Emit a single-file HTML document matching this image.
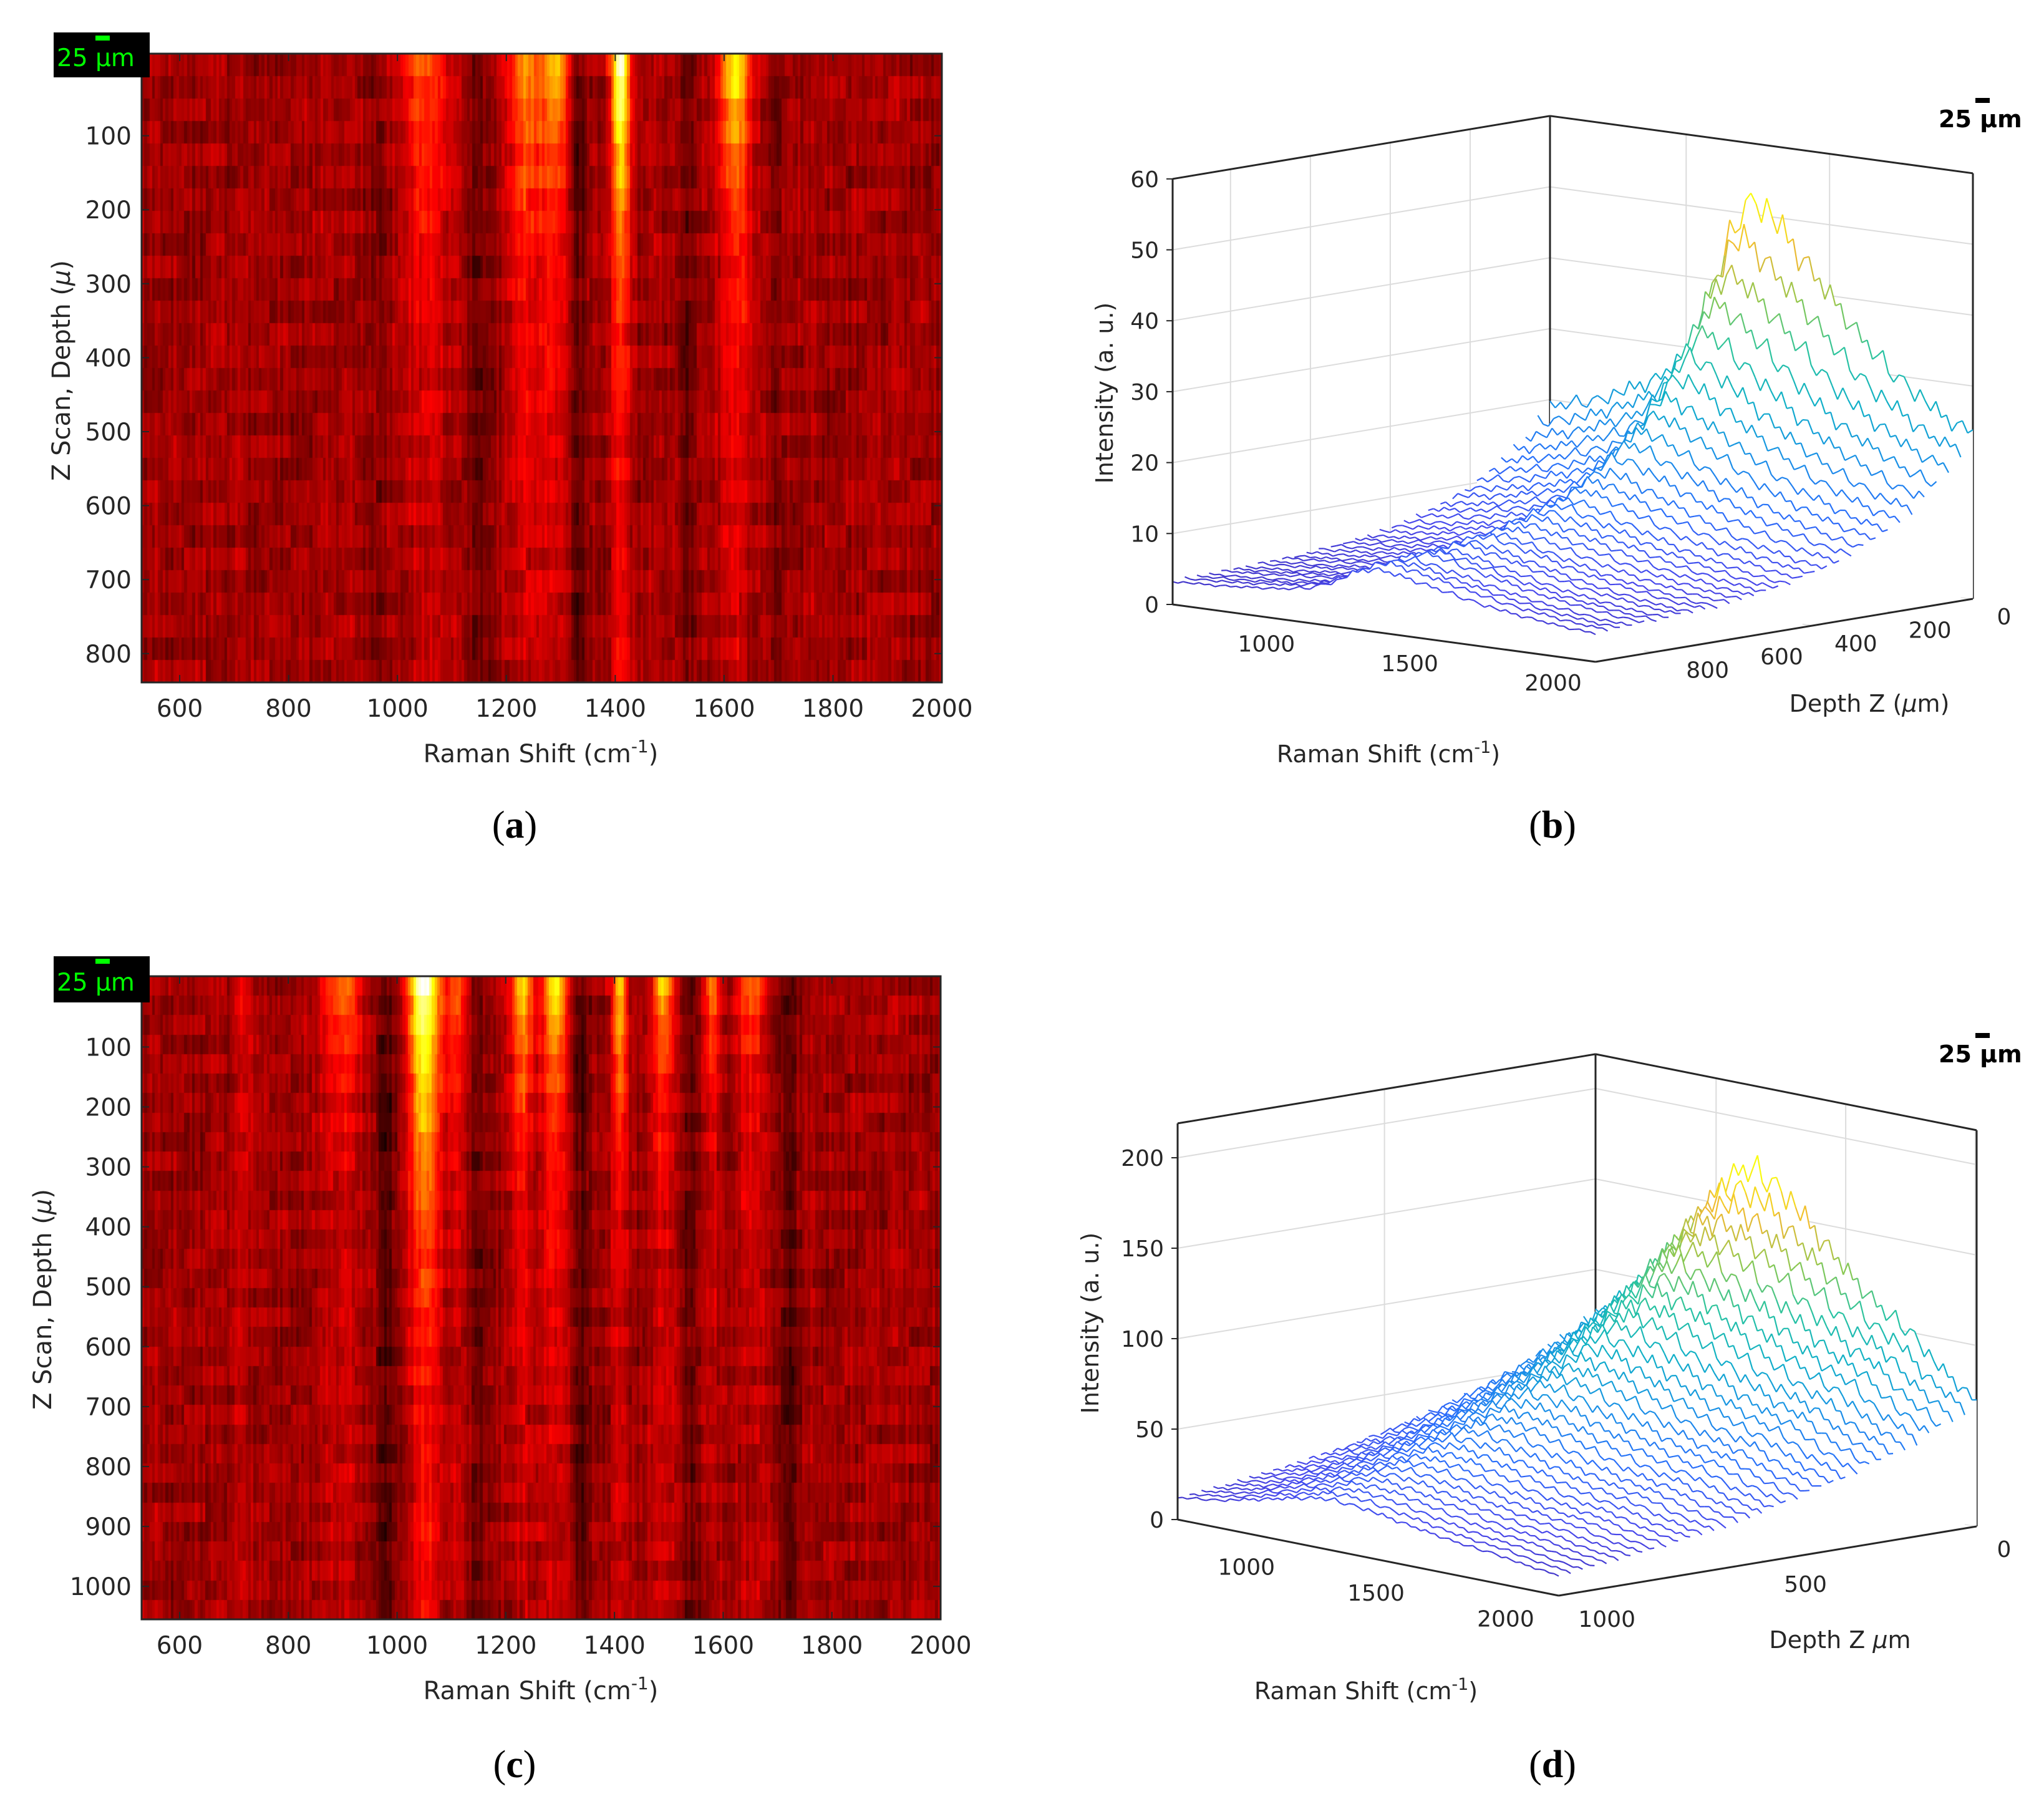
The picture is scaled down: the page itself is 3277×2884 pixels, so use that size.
<!DOCTYPE html>
<html><head><meta charset="utf-8">
<style>
html,body{margin:0;padding:0;background:#fff;}
#root{position:relative;width:3277px;height:2884px;overflow:hidden;background:#fff;}
canvas{position:absolute;}
svg{position:absolute;left:0;top:0;}
text{font-family:"DejaVu Sans","Liberation Sans",sans-serif;fill:#262626;}
</style></head>
<body>
<div id="root">
<canvas id="heatA" width="1283" height="1008" style="left:227px;top:86px"></canvas>
<canvas id="heatC" width="1281" height="1031" style="left:227px;top:1565px"></canvas>
<svg id="svg" width="3277" height="2884" viewBox="0 0 3277 2884">
  <g id="gA"></g>
  <g id="gB"></g>
  <g id="gC"></g>
  <g id="gD"></g>
  <rect x="86" y="52" width="154" height="72" fill="#000"/>
  <rect x="153" y="57" width="23" height="8" fill="#00ff00"/>
  <text x="91" y="106" font-size="39" style="fill:#00ff00">25 μm</text>
  <rect x="86" y="1533" width="154" height="74" fill="#000"/>
  <rect x="153" y="1537" width="23" height="8" fill="#00ff00"/>
  <text x="91" y="1588" font-size="39" style="fill:#00ff00">25 μm</text>
  <rect x="3167" y="157" width="23" height="8" fill="#000"/>
  <text x="3108" y="204" font-size="38" font-weight="bold" style="fill:#000">25 μm</text>
  <rect x="3167" y="1656" width="23" height="8" fill="#000"/>
  <text x="3108" y="1703" font-size="38" font-weight="bold" style="fill:#000">25 μm</text>
  <text x="825" y="1343" font-size="62" text-anchor="middle" style="font-family:'Liberation Serif',serif;fill:#000">(<tspan font-weight="bold">a</tspan>)</text>
  <text x="2489" y="1343" font-size="62" text-anchor="middle" style="font-family:'Liberation Serif',serif;fill:#000">(<tspan font-weight="bold">b</tspan>)</text>
  <text x="825" y="2849" font-size="62" text-anchor="middle" style="font-family:'Liberation Serif',serif;fill:#000">(<tspan font-weight="bold">c</tspan>)</text>
  <text x="2489" y="2849" font-size="62" text-anchor="middle" style="font-family:'Liberation Serif',serif;fill:#000">(<tspan font-weight="bold">d</tspan>)</text>
  <text x="867" y="1222" font-size="40" text-anchor="middle">Raman Shift (cm<tspan baseline-shift="super" font-size="28">-1</tspan>)</text>
  <text transform="translate(112,594) rotate(-90)" font-size="40" text-anchor="middle">Z Scan, Depth (<tspan font-style="italic">μ</tspan>)</text>
  <text x="867" y="2724" font-size="40" text-anchor="middle">Raman Shift (cm<tspan baseline-shift="super" font-size="28">-1</tspan>)</text>
  <text transform="translate(82,2083) rotate(-90)" font-size="40" text-anchor="middle">Z Scan, Depth (<tspan font-style="italic">μ</tspan>)</text>
  <text x="2226" y="1222" font-size="38" text-anchor="middle">Raman Shift (cm<tspan baseline-shift="super" font-size="27">-1</tspan>)</text>
  <text x="2997" y="1141" font-size="38" text-anchor="middle">Depth Z (<tspan font-style="italic">μ</tspan>m)</text>
  <text transform="translate(1784,630) rotate(-90)" font-size="38" text-anchor="middle">Intensity (a. u.)</text>
  <text x="2190" y="2724" font-size="38" text-anchor="middle">Raman Shift (cm<tspan baseline-shift="super" font-size="27">-1</tspan>)</text>
  <text x="2950" y="2642" font-size="38" text-anchor="middle">Depth Z <tspan font-style="italic">μ</tspan>m</text>
  <text transform="translate(1761,2121) rotate(-90)" font-size="38" text-anchor="middle">Intensity (a. u.)</text>
</svg>
</div>
<script>
// ===== Heatmap (a) data =====
const heatA_peakCenters = [1050, 1235, 1290, 1410, 1620];
const heatA_peakWidths  = [30, 22, 18, 12, 20];
const heatA_peakAmps    = [0.30, 0.35, 0.40, 0.80, 0.55];
const heatA_peakDecays  = [220, 300, 220, 200, 200];
const heatA_dipCenters  = [960, 1150, 1330, 1530, 1700];
const heatA_dipWidths   = [12, 15, 12, 12, 12];
const heatA_dipAmps     = [0.05, 0.08, 0.10, 0.07, 0.05];
const heatA_xTicks = [600, 800, 1000, 1200, 1400, 1600, 1800, 2000];
const heatA_yTicks = [100, 200, 300, 400, 500, 600, 700, 800];
// ===== Heatmap (c) data =====
const heatC_peakCenters = [720, 900, 1050, 1110, 1230, 1290, 1410, 1490, 1580, 1650];
const heatC_peakWidths  = [15, 25, 20, 15, 15, 15, 10, 12, 10, 18];
const heatC_peakAmps    = [0.12, 0.30, 0.80, 0.25, 0.45, 0.50, 0.50, 0.45, 0.35, 0.30];
const heatC_peakDecays  = [250, 160, 260, 160, 220, 220, 200, 160, 150, 160];
const heatC_dipCenters  = [980, 1150, 1340, 1540, 1720];
const heatC_dipWidths   = [15, 12, 12, 12, 12];
const heatC_dipAmps     = [0.10, 0.08, 0.10, 0.07, 0.12];
const heatC_xTicks = [600, 800, 1000, 1200, 1400, 1600, 1800, 2000];
const heatC_yTicks = [100, 200, 300, 400, 500, 600, 700, 800, 900, 1000];
const heatTexture = [0.6,-0.9,0.2,-0.4,0.8,-0.1,-0.7,0.4,0.1,-0.5,0.9,-0.3,0.3,-0.8,0.5,0.0,-0.6,0.7,-0.2,0.2,-1.0,0.6,-0.4,0.1,0.8,-0.5,-0.1,0.4,-0.7,0.3,0.9,-0.6,0.0,0.5,-0.3,-0.8,0.7,0.2,-0.2,0.4,-0.9];

// ===== 3D (b) data =====
const specB_raman = [525, 700, 900, 1000, 1100, 1150, 1200, 1250, 1300, 1400, 1500, 1600, 1700, 1800, 1900, 2000];
const specB_backRow = [19, 21, 25, 29, 38, 46, 51, 52, 50, 45, 40, 35, 31, 28, 25, 23.5];
const specB_rowAmp = [1.00,0.90,0.81,0.73,0.66,0.60,0.55,0.50,0.46,0.42,0.39,0.36,0.33,0.31,0.29,0.27,0.26,0.25,0.24,0.23,0.22,0.21,0.21,0.20,0.20,0.19,0.19,0.19,0.18,0.18,0.18,0.17];
const specB_zTicks = [0, 10, 20, 30, 40, 50, 60];
const specB_ramanTicks = [1000, 1500, 2000];
const specB_depthTicks = [0, 200, 400, 600, 800];
// ===== 3D (d) data =====
const specD_raman = [535, 700, 850, 1000, 1086, 1150, 1250, 1350, 1450, 1550, 1650, 1755, 1850, 2005];
const specD_backRow = [75, 95, 125, 155, 170, 172, 165, 150, 135, 120, 108, 100, 85, 69];
const specD_rowAmp = [1,.949,.901,.856,.812,.771,.732,.695,.660,.627,.595,.565,.536,.509,.483,.459,.436,.414,.393,.373,.354,.336,.319,.303,.288,.273,.259,.246,.234,.222,.211,.200,.190,.180,.171,.162];
const specD_zTicks = [0, 50, 100, 150, 200];
const specD_ramanTicks = [1000, 1500, 2000];
const specD_depthTicks = [0, 500, 1000];
const specWiggle = [0.6,-0.2,0.3,-0.5,0.1,0.8,-0.3,-0.6,0.2,0.4,-0.1,-0.7,0.5,0.0,-0.4,0.7,-0.2,0.3,-0.8,0.1,0.5,-0.3,0.2,-0.5,0.6,-0.1,0.4,-0.6,0.0];

const NS = 'http://www.w3.org/2000/svg';
function mk(tag, parent){ const e=document.createElementNS(NS,tag); parent.appendChild(e); return e; }
function clamp(v){ return v<0?0:(v>1?1:v); }
function hot(v){ v=clamp(v); return [Math.round(255*clamp(v/0.375)), Math.round(255*clamp((v-0.375)/0.375)), Math.round(255*clamp((v-0.75)/0.25))]; }
const parulaStops=[[0,62,38,168],[0.125,70,70,235],[0.25,40,110,250],[0.375,25,145,230],[0.5,15,175,200],[0.625,40,195,160],[0.75,140,200,80],[0.875,240,185,50],[1,249,251,14]];
function parula(t){ t=clamp(t); for(let i=1;i<parulaStops.length;i++){ const a=parulaStops[i-1],b=parulaStops[i]; if(t<=b[0]){ const f=(t-a[0])/(b[0]-a[0]); return 'rgb('+Math.round(a[1]+f*(b[1]-a[1]))+','+Math.round(a[2]+f*(b[2]-a[2]))+','+Math.round(a[3]+f*(b[3]-a[3]))+')'; } } return 'rgb(249,251,14)'; }
function interp(xs, ys, x){ if(x<=xs[0]) return ys[0]; for(let i=1;i<xs.length;i++){ if(x<=xs[i]){ const f=(x-xs[i-1])/(xs[i]-xs[i-1]); return ys[i-1]+f*(ys[i]-ys[i-1]); } } return ys[ys.length-1]; }

function drawHeat(cv, rLo, rHi, dLo, dHi, nRows, pc, pw, pa, pd, dc, dw, da){
  const ctx=cv.getContext('2d'); const W=cv.width, H=cv.height; const nCols=300;
  const xs=r=>(r-rLo)/(rHi-rLo)*W;
  const T=heatTexture.length;
  for(let j=0;j<nRows;j++){
    const depth=dLo+(j+0.5)*(dHi-dLo)/nRows;
    const y0=Math.round(j*H/nRows), y1=Math.round((j+1)*H/nRows);
    for(let i=0;i<nCols;i++){
      const r=rLo+(i+0.5)*(rHi-rLo)/nCols;
      let v=0.235;
      for(let k=0;k<pc.length;k++){ const g=Math.exp(-0.5*Math.pow((r-pc[k])/pw[k],2)); v+=pa[k]*g*(0.14+0.86*Math.exp(-Math.max(0,depth)/pd[k])); }
      for(let k=0;k<dc.length;k++){ v-=da[k]*Math.exp(-0.5*Math.pow((r-dc[k])/dw[k],2)); }
      v+=0.04*heatTexture[(i*7+j*3+(i>>2)*11)%T]+0.03*heatTexture[(i*13)%T]+0.045*heatTexture[(j*11+(i>>3)*7)%T];
      const c=hot(v); ctx.fillStyle='rgb('+c[0]+','+c[1]+','+c[2]+')';
      const x0=Math.round(xs(rLo+i*(rHi-rLo)/nCols)), x1=Math.round(xs(rLo+(i+1)*(rHi-rLo)/nCols));
      ctx.fillRect(x0,y0,x1-x0,y1-y0);
    }
  }
}
drawHeat(document.getElementById('heatA'),530,2000,-11,839,28,heatA_peakCenters,heatA_peakWidths,heatA_peakAmps,heatA_peakDecays,heatA_dipCenters,heatA_dipWidths,heatA_dipAmps);
drawHeat(document.getElementById('heatC'),530,2000,-18,1055,33,heatC_peakCenters,heatC_peakWidths,heatC_peakAmps,heatC_peakDecays,heatC_dipCenters,heatC_dipWidths,heatC_dipAmps);

function heatAxes(g, L, T, R, B, rLo, rHi, dLo, dHi, xt, yt, tag){
  const xS=r=>L+(r-rLo)/(rHi-rLo)*(R-L), yS=d=>T+(d-dLo)/(dHi-dLo)*(B-T);
  const box=mk('rect',g); box.setAttribute('x',L); box.setAttribute('y',T); box.setAttribute('width',R-L); box.setAttribute('height',B-T);
  box.setAttribute('fill','none'); box.setAttribute('stroke','#262626'); box.setAttribute('stroke-width','3');
  
  
  xt.forEach(v=>{
    const x=xS(v);
    const t1=mk('line',g); t1.setAttribute('x1',x); t1.setAttribute('x2',x); t1.setAttribute('y1',B); t1.setAttribute('y2',B-12); t1.setAttribute('stroke','#262626'); t1.setAttribute('stroke-width','2');
    
    
    const t2=mk('line',g); t2.setAttribute('x1',x); t2.setAttribute('x2',x); t2.setAttribute('y1',T); t2.setAttribute('y2',T+12); t2.setAttribute('stroke','#262626'); t2.setAttribute('stroke-width','2');
    
    
    const tx=mk('text',g); tx.setAttribute('x',x); tx.setAttribute('y',B+55); tx.setAttribute('font-size','39'); tx.setAttribute('text-anchor','middle'); tx.textContent=v;
    
    
  });
  yt.forEach(v=>{
    const y=yS(v);
    const t1=mk('line',g); t1.setAttribute('x1',L); t1.setAttribute('x2',L+12); t1.setAttribute('y1',y); t1.setAttribute('y2',y); t1.setAttribute('stroke','#262626'); t1.setAttribute('stroke-width','2');
    
    
    const t2=mk('line',g); t2.setAttribute('x1',R); t2.setAttribute('x2',R-12); t2.setAttribute('y1',y); t2.setAttribute('y2',y); t2.setAttribute('stroke','#262626'); t2.setAttribute('stroke-width','2');
    
    
    const tx=mk('text',g); tx.setAttribute('x',L-16); tx.setAttribute('y',y+14); tx.setAttribute('font-size','39'); tx.setAttribute('text-anchor','end'); tx.textContent=v;
    
    
  });
}
heatAxes(document.getElementById('gA'),227,86,1510,1094,530,2000,-11,839,heatA_xTicks,heatA_yTicks,'a');
heatAxes(document.getElementById('gC'),227,1565,1508,2596,530,2000,-18,1055,heatC_xTicks,heatC_yTicks,'c');

function waterfall(g, cfg, ramanArr, backRow, rowAmp, zTicks, rTicks, dTicks, tag){
  const P=(r,d,z)=>[cfg.B[0]+(r-cfg.rmin)/(cfg.rmax-cfg.rmin)*cfg.Vr[0]+d/cfg.dmax*cfg.Vd[0],
                    cfg.B[1]+(r-cfg.rmin)/(cfg.rmax-cfg.rmin)*cfg.Vr[1]+d/cfg.dmax*cfg.Vd[1]-z*cfg.zs];
  function line(a,b,color,w,name){
    const l=mk('line',g); l.setAttribute('x1',a[0].toFixed(1)); l.setAttribute('y1',a[1].toFixed(1)); l.setAttribute('x2',b[0].toFixed(1)); l.setAttribute('y2',b[1].toFixed(1));
    l.setAttribute('stroke',color); l.setAttribute('stroke-width',w);
    
    
  }
  const grid='#dcdcdc';
  zTicks.forEach(z=>{ if(z===0) return;
    line(P(cfg.rmin,cfg.dmax,z),P(cfg.rmin,0,z),grid,2,'z-gridline-'+tag);
    line(P(cfg.rmin,0,z),P(cfg.rmax,0,z),grid,2,'z-gridline-'+tag);
  });
  dTicks.forEach(d=>{ if(d<=0||d>=cfg.dmax) return;
    line(P(cfg.rmin,d,0),P(cfg.rmin,d,cfg.zmax),grid,2,'depth-gridline-'+tag);
    line(P(cfg.rmin,d,0),P(cfg.rmax,d,0),grid,2,'depth-gridline-'+tag);
  });
  rTicks.forEach(r=>{ if(r>=cfg.rmax) return;
    line(P(r,0,0),P(r,0,cfg.zmax),grid,2,'raman-gridline-'+tag);
    line(P(r,0,0),P(r,cfg.dmax,0),grid,2,'raman-gridline-'+tag);
  });
  line(P(cfg.rmin,cfg.dmax,0),P(cfg.rmin,0,0),grid,2,'floor-edge-'+tag);
  line(P(cfg.rmin,0,0),P(cfg.rmax,0,0),grid,2,'floor-edge-'+tag);
  const k='#262626';
  line(P(cfg.rmin,0,0),P(cfg.rmin,0,cfg.zmax),k,3,'box-edge-'+tag);
  line(P(cfg.rmax,0,0),P(cfg.rmax,0,cfg.zmax),k,3,'box-edge-'+tag);
  line(P(cfg.rmin,cfg.dmax,cfg.zmax),P(cfg.rmin,0,cfg.zmax),k,3,'box-edge-'+tag);
  line(P(cfg.rmin,0,cfg.zmax),P(cfg.rmax,0,cfg.zmax),k,3,'box-edge-'+tag);
  const nRows=rowAmp.length, nPts=80;
  let zMaxData=0; backRow.forEach(v=>{ if(v>zMaxData) zMaxData=v; });
  for(let rI=0;rI<nRows;rI++){
    const d=rI*cfg.dmax/(nRows-1);
    const pts=[], zs=[];
    for(let p=0;p<=nPts;p++){
      const r=cfg.rmin+p*(cfg.rmax-cfg.rmin)/nPts;
      const z=rowAmp[rI]*interp(ramanArr,backRow,r)*(1+0.07*specWiggle[(p+rI*5)%specWiggle.length]);
      pts.push(P(r,d,z)); zs.push(z);
    }
    const fl1=P(cfg.rmax,d,0), fl2=P(cfg.rmin,d,0);
    const poly=mk('polygon',g);
    poly.setAttribute('points',pts.map(q=>q[0].toFixed(1)+','+q[1].toFixed(1)).join(' ')+' '+fl1[0].toFixed(1)+','+fl1[1].toFixed(1)+' '+fl2[0].toFixed(1)+','+fl2[1].toFixed(1));
    poly.setAttribute('fill','#fff');
    
    
    for(let p=1;p<pts.length;p++){ line(pts[p-1],pts[p],parula(((zs[p-1]+zs[p])/2)/zMaxData),2.2,'spectrum-segment-'+tag); }
  }
  line(P(cfg.rmin,cfg.dmax,0),P(cfg.rmin,cfg.dmax,cfg.zmax),k,3,'z-axis-line-'+tag);
  line(P(cfg.rmin,cfg.dmax,0),P(cfg.rmax,cfg.dmax,0),k,3,'raman-axis-line-'+tag);
  line(P(cfg.rmax,cfg.dmax,0),P(cfg.rmax,0,0),k,3,'depth-axis-line-'+tag);
  zTicks.forEach(z=>{
    const p=P(cfg.rmin,cfg.dmax,z);
    line([p[0]-10,p[1]],p,k,2,'z-tick-'+tag);
    const t=mk('text',g); t.setAttribute('x',p[0]-22); t.setAttribute('y',p[1]+13); t.setAttribute('font-size','36'); t.setAttribute('text-anchor','end'); t.textContent=z;
    
    
  });
  rTicks.forEach(r=>{
    const p=P(r,cfg.dmax,0);
    const t=mk('text',g); t.setAttribute('x',p[0]+cfg.rOff[0]); t.setAttribute('y',p[1]+cfg.rOff[1]+13); t.setAttribute('font-size','36'); t.setAttribute('text-anchor','middle'); t.textContent=r;
    
    
  });
  dTicks.forEach(d=>{
    const p=P(cfg.rmax,d,0);
    const t=mk('text',g); t.setAttribute('x',p[0]+cfg.dOff[0]+cfg.dOffSlope*d); t.setAttribute('y',p[1]+cfg.dOff[1]+13); t.setAttribute('font-size','36'); t.setAttribute('text-anchor','middle'); t.textContent=d;
    
    
  });
}
waterfall(document.getElementById('gB'),
  {B:[2485,868],Vr:[678,92],Vd:[-605,101],zs:11.37,rmin:525,rmax:2000,dmax:945,zmax:60,rOff:[-68,33],dOff:[50,28],dOffSlope:0.046},
  specB_raman,specB_backRow,specB_rowAmp,specB_zTicks,specB_ramanTicks,specB_depthTicks,'b');
waterfall(document.getElementById('gD'),
  {B:[2558,2325],Vr:[611,122],Vd:[-670,111],zs:2.9,rmin:535,rmax:2005,dmax:990,zmax:219,rOff:[-83,37],dOff:[44,36],dOffSlope:0.04},
  specD_raman,specD_backRow,specD_rowAmp,specD_zTicks,specD_ramanTicks,specD_depthTicks,'d');
</script>
</body></html>
